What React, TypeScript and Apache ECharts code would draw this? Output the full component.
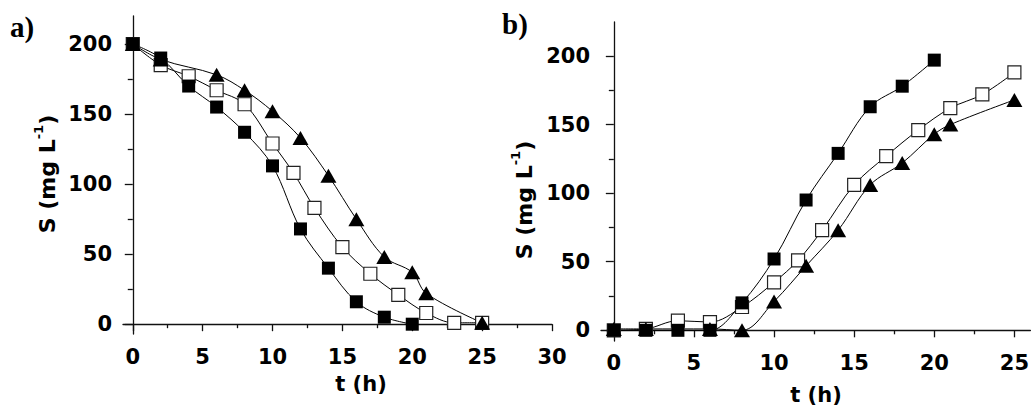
import React, { useEffect, useRef } from "react";
import * as echarts from "echarts";

// Panel a) data
const aFilledT = [0, 2, 4, 6, 8, 10, 12, 14, 16, 18, 20];
const aFilledS = [200, 190, 170, 155, 137, 113, 68, 40, 16, 5, 0];
const aOpenT = [0, 2, 4, 6, 8, 10, 11.5, 13, 15, 17, 19, 21, 23, 25];
const aOpenS = [200, 185, 177, 167, 157, 129, 108, 83, 55, 36, 21, 8, 1, 1];
const aTriT = [0, 2, 6, 8, 10, 12, 14, 16, 18, 20, 21, 25];
const aTriS = [200, 189, 178, 167, 152, 133, 106, 75, 48, 37, 22, 1];

// Panel b) data
const bFilledT = [0, 2, 4, 6, 8, 10, 12, 14, 16, 18, 20];
const bFilledS = [0, 0, 0, 0, 20, 52, 95, 129, 163, 178, 197];
const bOpenT = [0, 2, 4, 6, 8, 10, 11.5, 13, 15, 17, 19, 21, 23, 25];
const bOpenS = [0, 1, 7, 6, 17, 35, 51, 73, 106, 127, 146, 162, 172, 188];
const bTriT = [0, 2, 6, 8, 10, 12, 14, 16, 18, 20, 21, 25];
const bTriS = [1, 1, 1, 0, 21, 47, 73, 106, 122, 143, 150, 168];

// Ticks
const yTicks = [0, 50, 100, 150, 200];
const yMinor = [25, 75, 125, 175];
const aXTicks = [0, 5, 10, 15, 20, 25, 30];
const aXMinor = [2.5, 7.5, 12.5, 17.5, 22.5, 27.5];
const bXTicks = [0, 5, 10, 15, 20, 25];
const bXMinor = [2.5, 7.5, 12.5, 17.5, 22.5];

const FONT = "DejaVu Sans";
const zip = (t: number[], s: number[]) => t.map((v, i) => [v, s[i]]);

const lineStyle = { color: "#000", width: 1 };
const axisLine = { show: true, lineStyle: { color: "#111", width: 1.3 } };

function mkAxes(gridIndex: number, isX: boolean, min: number, max: number, major: number[], minor: number[], margin: number) {
  const main: any = {
    type: "value",
    gridIndex,
    min,
    max,
    position: isX ? "bottom" : "left",
    axisLine,
    splitLine: { show: false },
    axisTick: { show: true, inside: false, length: isX ? 7 : 8, customValues: major, lineStyle: { color: "#111", width: 1.3 } },
    axisLabel: {
      show: true,
      customValues: major,
      margin,
      color: "#000",
      fontFamily: FONT,
      fontWeight: "bold",
      fontSize: 21,
    },
  };
  const sub: any = {
    type: "value",
    gridIndex,
    min,
    max,
    position: isX ? "bottom" : "left",
    axisLine: { show: false },
    splitLine: { show: false },
    axisTick: { show: true, inside: false, length: isX ? 4 : 5, customValues: minor, lineStyle: { color: "#111", width: 1.3 } },
    axisLabel: { show: false },
  };
  return [main, sub];
}

function mkSeries(xi: number, yi: number, open: number[][], tri: number[][], filled: number[][]) {
  return [
    {
      type: "line",
      xAxisIndex: xi,
      yAxisIndex: yi,
      data: open,
      smooth: 0.35,
      symbol: "rect",
      symbolSize: 13,
      lineStyle,
      itemStyle: { color: "#fff", borderColor: "#222", borderWidth: 1.2 },
    },
    {
      type: "line",
      xAxisIndex: xi,
      yAxisIndex: yi,
      data: tri,
      smooth: 0.35,
      symbol: "triangle",
      symbolSize: [16, 14],
      lineStyle,
      itemStyle: { color: "#000" },
    },
    {
      type: "line",
      xAxisIndex: xi,
      yAxisIndex: yi,
      data: filled,
      smooth: 0.35,
      symbol: "rect",
      symbolSize: 13,
      lineStyle,
      itemStyle: { color: "#000" },
    },
  ];
}

function yTitle(x: number, y: number) {
  return {
    type: "text",
    x,
    y,
    rotation: Math.PI / 2,
    style: {
      text: "{a|S (mg L}{s|-1}{a|)}",
      align: "center",
      verticalAlign: "middle",
      rich: {
        a: { fontFamily: FONT, fontWeight: "bold", fontSize: 22, fill: "#000", lineHeight: 26, verticalAlign: "bottom" },
        s: { fontFamily: FONT, fontWeight: "bold", fontSize: 13, fill: "#000", lineHeight: 26, verticalAlign: "top" },
      },
    },
  };
}

function xTitle(x: number, y: number) {
  return {
    type: "text",
    x,
    y,
    style: {
      text: "t (h)",
      align: "center",
      verticalAlign: "middle",
      fontFamily: FONT,
      fontWeight: "bold",
      fontSize: 21,
      fill: "#000",
    },
  };
}

function panelLabel(x: number, y: number, t: string) {
  return {
    type: "text",
    x,
    y,
    style: {
      text: t,
      fontFamily: "Liberation Serif",
      fontWeight: "bold",
      fontSize: 29,
      fill: "#000",
      verticalAlign: "top",
    },
  };
}

export default function App() {
  const ref = useRef<HTMLDivElement>(null);
  useEffect(() => {
    if (!ref.current) return;
    const chart = echarts.init(ref.current, undefined, { renderer: "svg" });
    const [ax, axm] = mkAxes(0, true, -0.7, 30, aXTicks, aXMinor, 12);
    const [ay, aym] = mkAxes(0, false, -7, 220, yTicks, yMinor, 11);
    const [bx, bxm] = mkAxes(1, true, -0.8, 26, bXTicks, bXMinor, 11);
    const [by, bym] = mkAxes(1, false, -7.8, 224.8, yTicks, yMinor, 11);
    chart.setOption({
      animation: false,
      backgroundColor: "#fff",
      grid: [
        { left: 123, top: 16, width: 429, height: 318, containLabel: false },
        { left: 601, top: 22, width: 430, height: 319, containLabel: false },
      ],
      xAxis: [ax, axm, bx, bxm],
      yAxis: [ay, aym, by, bym],
      series: [
        ...mkSeries(0, 0, zip(aOpenT, aOpenS), zip(aTriT, aTriS), zip(aFilledT, aFilledS)),
        ...mkSeries(2, 2, zip(bOpenT, bOpenS), zip(bTriT, bTriS), zip(bFilledT, bFilledS)),
      ],
      graphic: [
        yTitle(45, 174),
        yTitle(522, 200),
        xTitle(361, 384),
        xTitle(816, 395),
        panelLabel(10, 12, "a)"),
        panelLabel(502, 9, "b)"),
      ],
    });
    return () => chart.dispose();
  }, []);
  return (
    <div
      ref={ref}
      style={{ position: "fixed", left: 0, top: 0, width: 1032, height: 409, background: "#fff" }}
    />
  );
}
